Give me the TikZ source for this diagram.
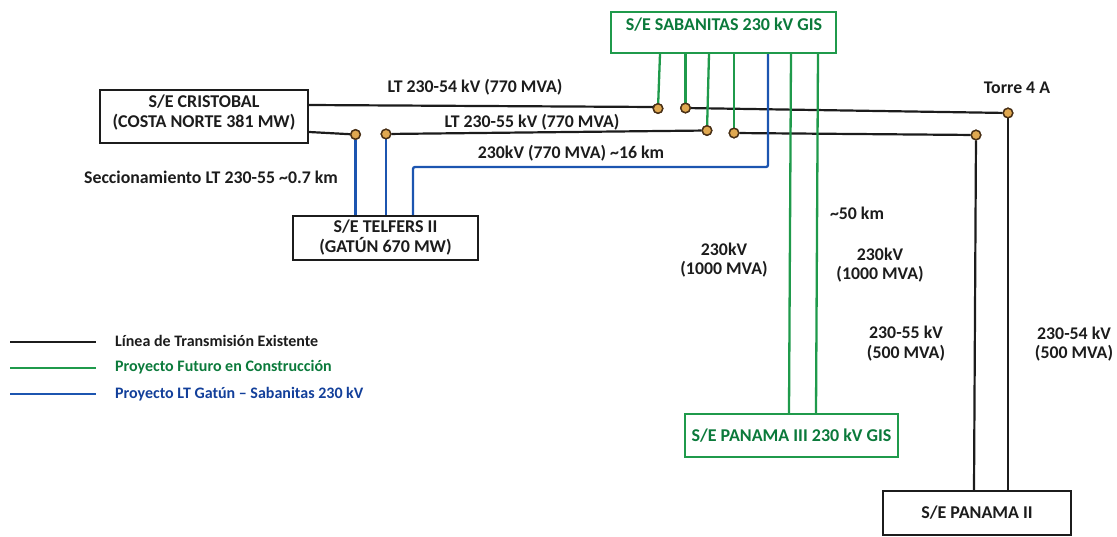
\documentclass[tikz,border=0pt]{standalone}
\usepackage{fontspec}
\setmainfont{Carlito}[BoldFont=Carlito Bold]
\definecolor{gline}{HTML}{1F9A4B}
\definecolor{gtext}{HTML}{0B7A3B}
\definecolor{bline}{HTML}{1C55B0}
\definecolor{btext}{HTML}{123F9A}
\definecolor{dotfill}{HTML}{E0A850}
\definecolor{ink}{HTML}{1C1C1C}
\tikzset{
  x=1pt,y=-1pt,
  blackbox/.style={draw=ink,line width=2.4pt,fill=white,inner sep=0,font=\bfseries\fontsize{18}{20}\selectfont,text=ink,align=center},
  greenbox/.style={draw=gline,line width=2.2pt,fill=white,inner sep=0,font=\bfseries\fontsize{18}{20}\selectfont,text=gtext,align=center},
  boxtext/.style={font=\bfseries\fontsize{18}{20}\selectfont,align=center,inner sep=0},
  lbl/.style={font=\bfseries\fontsize{17.8}{19.5}\selectfont,text=ink,align=center,inner sep=0},
  leg/.style={font=\bfseries\fontsize{16}{18}\selectfont,anchor=west,inner sep=0},
  blk/.style={draw=ink,line width=2.2pt},
  grn/.style={draw=gline,line width=2.3pt},
  blu/.style={draw=bline,line width=2.3pt},
  dot/.style={circle,draw=ink!80!orange,fill=dotfill,line width=1.4pt,minimum size=9.5pt,inner sep=0},
}
\begin{document}
\begin{tikzpicture}
\useasboundingbox (0,0) rectangle (1117,536);
\coordinate (c1) at (308,105);
\coordinate (c2) at (308,132);
\coordinate (bend1) at (413,167);
\coordinate (bend2) at (768,167);
\node[dot] (d1) at (658,108.5) {};
\node[dot] (d2) at (685.5,108) {};
\node[dot] (d3) at (707,130.5) {};
\node[dot] (d4) at (734,133) {};
\node[dot] (d5) at (976,135) {};
\node[dot] (d6) at (1008,113) {};
\node[dot] (d7) at (355.5,134.5) {};
\node[dot] (d8) at (386,134) {};
\node[greenbox,minimum width=225pt,minimum height=41pt] (sab) at (723.5,32.5) {};
\node[boxtext,text=gtext] (sabt) at (724,25) {S/E SABANITAS 230 kV GIS};
\node[blackbox,minimum width=208pt,minimum height=53pt] (cri) at (204,116.5) {};
\node[boxtext,text=ink] (crit) at (204,112.5) {S/E CRISTOBAL\\(COSTA NORTE 381 MW)};
\node[blackbox,minimum width=185pt,minimum height=44pt] (tel) at (385.5,238) {S/E TELFERS II\\(GATÚN 670 MW)};
\node[greenbox,minimum width=213pt,minimum height=43pt] (pa3) at (791.5,435.5) {S/E PANAMA III 230 kV GIS};
\node[blackbox,minimum width=188pt,minimum height=44pt] (pa2) at (977,513) {S/E PANAMA II};
% black lines
\draw[blk] (cri.east |- c1) -- (655,107) -- (d1);
\draw[blk] (d2) -- (d6);
\draw[blk] (d6) -- (d6 |- pa2.north);
\draw[blk] (cri.east |- c2) -- (d7);
\draw[blk] (d8) -- (d3);
\draw[blk] (d4) -- (d5);
\draw[blk] (d5) -- (pa2.north -| 974,0);
% green lines
\draw[grn] (sab.south -| 660,0) -- (d1);
\draw[grn] (d2 |- sab.south) -- (d2);
\draw[grn] (sab.south -| 709,0) -- (d3);
\draw[grn] (d4 |- sab.south) -- (d4);
\draw[grn] (sab.south -| 791,0) -- (pa3.north -| 789,0);
\draw[grn] (sab.south -| 818,0) -- (pa3.north -| 816,0);
% blue lines
\draw[blu] (d7) -- (d7 |- tel.north);
\draw[blu] (d8) -- (d8 |- tel.north);
\draw[blu,rounded corners=2pt] (bend1 |- tel.north) -- (bend1) -- (bend2) -- (bend2 |- sab.south);
% dots on top
\foreach \d in {d1,d2,d3,d4,d5,d6,d7,d8} \node[dot] at (\d) {};
% labels
\node[lbl] (l1) at (475,87) {LT 230-54 kV (770 MVA)};
\node[lbl] (l2) at (532,122) {LT 230-55 kV (770 MVA)};
\node[lbl] (l3) at (571,153) {230kV (770 MVA) \textasciitilde16 km};
\node[lbl] (l4) at (211,177) {Seccionamiento LT 230-55 \textasciitilde0.7 km};
\node[lbl] (l5) at (1017,88) {Torre 4 A};
\node[lbl] (l6) at (857,213) {\textasciitilde50 km};
\node[lbl] (l7) at (724,260) {230kV\\(1000 MVA)};
\node[lbl] (l8) at (880,265) {230kV\\(1000 MVA)};
\node[lbl] (l9) at (906,343.5) {230-55 kV\\(500 MVA)};
\node[lbl] (l10) at (1074,344) {230-54 kV\\(500 MVA)};
% legend
\coordinate (a1) at (10,342); \coordinate (a2) at (96,342);
\coordinate (b1) at (10,368); \coordinate (b2) at (96,368);
\coordinate (e1) at (10,394); \coordinate (e2) at (96,394);
\draw[blk] (a1) -- (a2);
\draw[grn] (b1) -- (b2);
\draw[blu] (e1) -- (e2);
\node[leg,text=ink] (t1) at (115,341) {Línea de Transmisión Existente};
\node[leg,text=gtext] (t2) at (115,367) {Proyecto Futuro en Construcción};
\node[leg,text=btext] (t3) at (115,394) {Proyecto LT Gatún – Sabanitas 230 kV};
\end{tikzpicture}
\end{document}
